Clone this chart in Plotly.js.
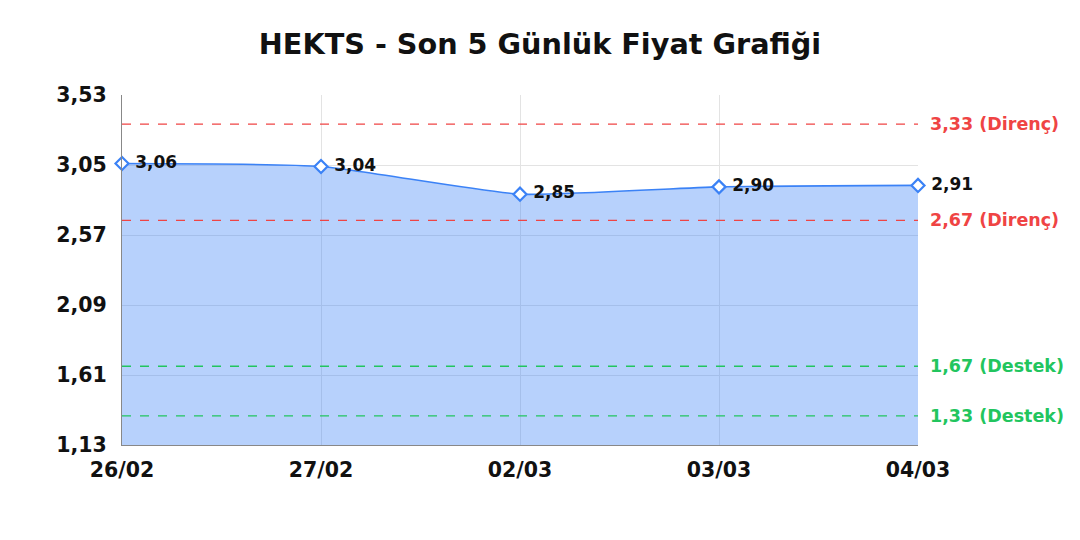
<!DOCTYPE html>
<html>
<head>
<meta charset="utf-8">
<script src="https://cdn.plot.ly/plotly-3.0.1.min.js"></script>
<style>body{margin:0;background:#fff}</style>
</head>
<body>
<div id="chart" style="width:1080px;height:540px"></div>
<script>
var dates = ["26/02", "27/02", "02/03", "03/03", "04/03"]
var prices = [3.06, 3.04, 2.85, 2.90, 2.91]
var levelValues = [3.33, 2.67, 1.67, 1.33]
var levelLabels = ["3,33 (Direnç)", "2,67 (Direnç)", "1,67 (Destek)", "1,33 (Destek)"]
var levelColors = ["#ef4444", "#ef4444", "#22c55e", "#22c55e"]
var yTicks = [1.13, 1.61, 2.09, 2.57, 3.05, 3.53]

var font = "DejaVu Sans, sans-serif"

var shapes = levelValues.map(function (v, i) {
    return {
        type: "line", xref: "paper", yref: "y",
        x0: 0, x1: 1, y0: v, y1: v,
        line: { color: levelColors[i], width: 1.3, dash: "dash" },
    }
})

var annotations = levelValues.map(function (v, i) {
    return {
        xref: "paper", yref: "y", x: 1, y: v,
        xanchor: "left", yanchor: "middle", xshift: 10,
        showarrow: false, text: "<b>" + levelLabels[i] + "</b>",
        font: { family: font, size: 17.5, color: levelColors[i] },
    }
})

Plotly.newPlot(
    document.getElementById("chart"),
    [{
        type: "scatter",
        mode: "lines+markers+text",
        x: dates,
        y: prices,
        fill: "tozeroy",
        fillcolor: "rgba(59,130,246,0.37)",
        line: { color: "#3b82f6", width: 1.6, shape: "spline", smoothing: 0.5 },
        marker: { symbol: "diamond", size: 10, color: "#fff", line: { width: 2.2, color: "#3b82f6" } },
        text: prices.map(function (p) { return "<b>\u00a0" + p.toFixed(2).replace(".", ",") + "</b>" }),
        textposition: "middle right",
        textfont: { family: font, size: 17, color: "#111" },
        cliponaxis: false,
        hoverinfo: "x+y",
    }],
    {
        width: 1080,
        height: 540,
        margin: { l: 122, r: 162, t: 95, b: 95 },
        paper_bgcolor: "#fff",
        plot_bgcolor: "#fff",
        separators: ",.",
        showlegend: false,
        title: {
            text: "<b>HEKTS - Son 5 Günlük Fiyat Grafiği</b>",
            x: 0.5, xanchor: "center", y: 0.918, yanchor: "middle",
            font: { family: font, size: 28.7, color: "#111" },
        },
        xaxis: {
            type: "category",
            range: [0, 4],
            showgrid: true,
            gridcolor: "#e3e3e3",
            zeroline: false,
            showline: true,
            linecolor: "#888",
            ticks: "",
            tickfont: { family: font, size: 20.5, color: "#111", weight: "bold" },
            ticklabelstandoff: 6,
        },
        yaxis: {
            range: [1.13, 3.53],
            tickvals: yTicks,
            tickformat: ".2f",
            showgrid: true,
            gridcolor: "#e3e3e3",
            zeroline: false,
            showline: true,
            linecolor: "#888",
            ticks: "",
            tickfont: { family: font, size: 20.5, color: "#111", weight: "bold" },
            ticklabelstandoff: 10,
        },
        shapes: shapes,
        annotations: annotations,
    },
    { displayModeBar: false }
)
</script>
</body>
</html>
